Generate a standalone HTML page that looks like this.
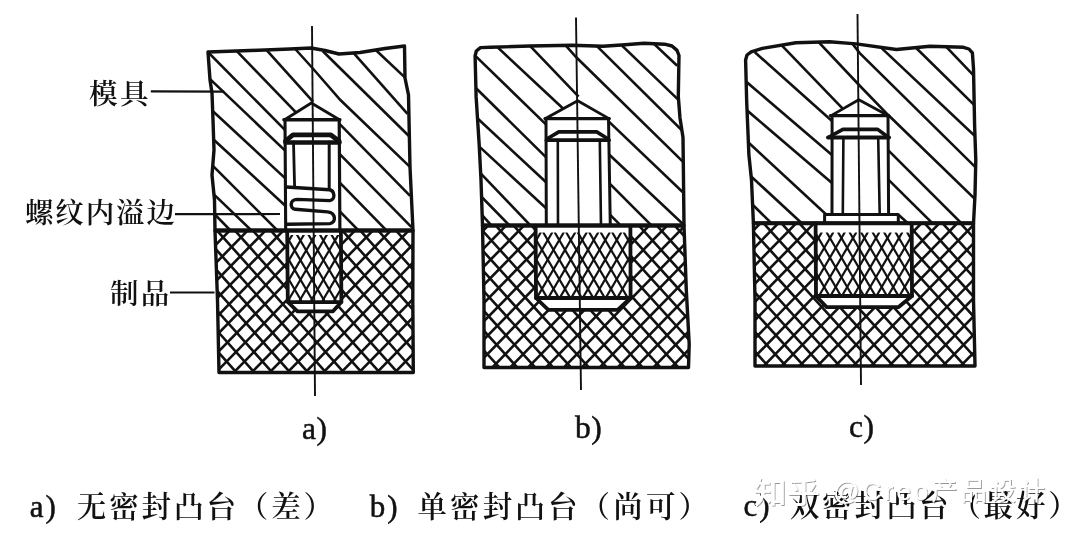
<!DOCTYPE html>
<html lang="zh"><head><meta charset="utf-8"><title>嵌件密封凸台</title>
<style>html,body{margin:0;padding:0;background:#fff}svg{display:block;filter:blur(0.45px)}</style></head>
<body>
<svg width="1080" height="537" viewBox="0 0 1080 537">
<rect width="1080" height="537" fill="#fff"/>
<defs><clipPath id="ma"><polygon points="208.0,52.0 250.0,50.5 290.0,49.0 311.0,48.0 325.0,50.5 339.0,54.0 360.0,52.5 385.0,48.5 404.5,46.0 405.0,78.0 408.5,95.0 410.0,167.0 413.0,230.5 215.0,230.5 214.5,200.0 212.0,175.0 214.0,150.0 213.0,120.0 212.0,93.0 210.0,80.0"/></clipPath>
<clipPath id="pa"><polygon points="215.0,230.5 413.0,230.5 412.8,300.0 413.3,372.5 219.0,372.5 217.5,300.0"/></clipPath>
<clipPath id="mb"><polygon points="475.1,56.0 476.3,51.0 480.5,47.6 490.5,47.3 530.0,46.0 572.0,45.2 603.0,46.3 625.0,44.8 644.0,43.2 664.6,44.2 672.0,46.0 677.0,50.4 679.0,55.5 678.3,96.4 680.0,118.0 683.0,137.4 683.5,180.0 684.0,225.5 482.5,225.5 481.0,180.0 479.2,144.8 476.1,96.4"/></clipPath>
<clipPath id="pb"><polygon points="482.5,225.5 684.0,225.5 686.3,290.0 689.2,344.0 688.5,367.5 484.0,367.5 484.0,300.0"/></clipPath>
<clipPath id="mc"><polygon points="745.6,60.0 747.0,55.0 751.2,51.8 762.3,48.4 795.9,42.8 829.4,41.7 856.2,43.9 896.4,49.5 930.0,46.2 963.5,47.3 969.0,49.0 972.4,52.9 973.5,68.5 974.6,125.0 975.8,160.0 975.0,195.0 973.5,223.3 753.4,223.3 751.5,180.0 748.9,154.8 746.7,102.0"/></clipPath>
<clipPath id="pc"><polygon points="753.4,223.3 973.5,223.3 973.5,300.0 975.0,366.0 755.0,366.0 755.0,300.0"/></clipPath>
<clipPath id="ka"><polygon points="288.0,235.0 341.0,235.0 341.0,302.0 288.0,302.0"/></clipPath>
<clipPath id="kb"><polygon points="537.0,232.6 629.5,232.6 629.5,298.0 537.0,298.0"/></clipPath>
<clipPath id="kc"><polygon points="817.0,232.4 911.0,232.4 911.0,296.0 817.0,296.0"/></clipPath>
<filter id="ws" x="-5%" y="-30%" width="110%" height="160%"><feDropShadow dx="1" dy="1" stdDeviation="0.7" flood-color="#000" flood-opacity="0.4"/></filter></defs>
<g clip-path="url(#ma)" stroke="#111" stroke-width="2.6"><polyline points="207.1,51.2 287.1,132.2" fill="none"/>
<polyline points="236.8,51.1 298.1,114.7" fill="none"/>
<polyline points="266.6,50.1 313.0,101.7" fill="none"/>
<polyline points="294.3,48.0 312.0,67.5 340.4,100.0 410.2,167.1" fill="none"/>
<polyline points="322.9,51.2 408.9,136.0" fill="none"/>
<polyline points="353.7,53.2 407.5,113.9" fill="none"/>
<polyline points="376.0,50.2 406.7,79.1" fill="none"/>
<polyline points="209.8,78.9 287.2,152.6" fill="none"/>
<polyline points="211.3,109.7 287.2,180.1" fill="none"/>
<polyline points="210.8,137.0 287.2,207.5" fill="none"/>
<polyline points="209.9,162.9 280.1,233.1" fill="none"/>
<polyline points="212.3,192.9 254.2,233.1" fill="none"/>
<polyline points="212.9,212.5 233.1,233.1" fill="none"/>
<polyline points="338.3,122.6 410.1,195.9" fill="none"/>
<polyline points="338.3,152.6 411.5,227.1" fill="none"/>
<polyline points="338.3,181.2 389.1,233.1" fill="none"/>
<polyline points="338.3,209.9 361.1,233.1" fill="none"/></g>
<g clip-path="url(#mb)" stroke="#111" stroke-width="2.6"><polyline points="473.9,54.4 547.7,126.1" fill="none"/>
<polyline points="496.5,46.3 564.4,109.7" fill="none"/>
<polyline points="529.3,45.1 578.6,96.6" fill="none"/>
<polyline points="566.3,46.1 576.5,57.5 684.1,162.8" fill="none"/>
<polyline points="594.9,44.2 685.1,133.4" fill="none"/>
<polyline points="619.4,43.1 679.2,100.6" fill="none"/>
<polyline points="652.1,42.1 677.2,65.8" fill="none"/>
<polyline points="476.1,88.2 547.9,159.1" fill="none"/>
<polyline points="476.0,117.0 548.0,184.0" fill="none"/>
<polyline points="478.0,145.4 548.0,210.0" fill="none"/>
<polyline points="479.2,171.8 532.1,227.2" fill="none"/>
<polyline points="480.2,195.5 511.1,227.1" fill="none"/>
<polyline points="481.0,213.8 493.0,227.2" fill="none"/>
<polyline points="608.1,120.9 684.2,193.6" fill="none"/>
<polyline points="609.1,154.5 683.2,224.3" fill="none"/>
<polyline points="609.2,183.2 652.4,226.3" fill="none"/>
<polyline points="609.2,213.9 621.6,226.3" fill="none"/></g>
<g clip-path="url(#mc)" stroke="#111" stroke-width="2.6"><polyline points="754.6,52.0 834.2,123.0" fill="none"/>
<polyline points="781.5,45.1 842.7,108.7" fill="none"/>
<polyline points="817.2,40.6 860.0,86.0 888.0,114.8 976.8,200.8" fill="none"/>
<polyline points="849.9,40.4 859.5,52.9 977.9,169.6" fill="none"/>
<polyline points="880.8,47.4 976.8,137.7" fill="none"/>
<polyline points="914.4,46.3 975.6,106.4" fill="none"/>
<polyline points="944.6,45.1 974.5,76.3" fill="none"/>
<polyline points="745.5,81.1 834.3,156.9" fill="none"/>
<polyline points="745.5,109.1 834.3,184.9" fill="none"/>
<polyline points="746.8,141.0 826.2,214.5" fill="none"/>
<polyline points="750.1,175.5 803.7,225.0" fill="none"/>
<polyline points="752.4,204.5 773.4,225.1" fill="none"/>
<polyline points="887.6,149.7 963.3,225.1" fill="none"/>
<polyline points="887.6,178.8 934.3,225.1" fill="none"/>
<polyline points="898.8,215.0 909.8,225.0" fill="none"/></g>
<g clip-path="url(#pa)" stroke="#111" stroke-width="2.6"><line x1="17.9" y1="228" x2="150.1" y2="376"/>
<line x1="35.8" y1="228" x2="168.0" y2="376"/>
<line x1="53.7" y1="228" x2="185.9" y2="376"/>
<line x1="71.6" y1="228" x2="203.8" y2="376"/>
<line x1="89.5" y1="228" x2="221.7" y2="376"/>
<line x1="107.4" y1="228" x2="239.6" y2="376"/>
<line x1="125.3" y1="228" x2="257.5" y2="376"/>
<line x1="143.2" y1="228" x2="275.4" y2="376"/>
<line x1="161.1" y1="228" x2="293.3" y2="376"/>
<line x1="179.0" y1="228" x2="311.2" y2="376"/>
<line x1="196.9" y1="228" x2="329.1" y2="376"/>
<line x1="214.8" y1="228" x2="347.0" y2="376"/>
<line x1="232.7" y1="228" x2="364.9" y2="376"/>
<line x1="250.6" y1="228" x2="382.8" y2="376"/>
<line x1="268.5" y1="228" x2="400.7" y2="376"/>
<line x1="286.4" y1="228" x2="418.6" y2="376"/>
<line x1="304.3" y1="228" x2="436.5" y2="376"/>
<line x1="322.2" y1="228" x2="454.4" y2="376"/>
<line x1="340.1" y1="228" x2="472.3" y2="376"/>
<line x1="358.0" y1="228" x2="490.2" y2="376"/>
<line x1="375.9" y1="228" x2="508.1" y2="376"/>
<line x1="393.8" y1="228" x2="526.0" y2="376"/>
<line x1="411.7" y1="228" x2="543.9" y2="376"/>
<line x1="53.2" y1="228" x2="-91.9" y2="376"/>
<line x1="71.1" y1="228" x2="-74.0" y2="376"/>
<line x1="89.0" y1="228" x2="-56.1" y2="376"/>
<line x1="106.9" y1="228" x2="-38.2" y2="376"/>
<line x1="124.8" y1="228" x2="-20.3" y2="376"/>
<line x1="142.7" y1="228" x2="-2.4" y2="376"/>
<line x1="160.6" y1="228" x2="15.5" y2="376"/>
<line x1="178.5" y1="228" x2="33.4" y2="376"/>
<line x1="196.4" y1="228" x2="51.3" y2="376"/>
<line x1="214.3" y1="228" x2="69.2" y2="376"/>
<line x1="232.2" y1="228" x2="87.1" y2="376"/>
<line x1="250.1" y1="228" x2="105.0" y2="376"/>
<line x1="268.0" y1="228" x2="122.9" y2="376"/>
<line x1="285.9" y1="228" x2="140.8" y2="376"/>
<line x1="303.8" y1="228" x2="158.7" y2="376"/>
<line x1="321.7" y1="228" x2="176.6" y2="376"/>
<line x1="339.6" y1="228" x2="194.5" y2="376"/>
<line x1="357.5" y1="228" x2="212.4" y2="376"/>
<line x1="375.4" y1="228" x2="230.3" y2="376"/>
<line x1="393.3" y1="228" x2="248.2" y2="376"/>
<line x1="411.2" y1="228" x2="266.1" y2="376"/>
<line x1="429.1" y1="228" x2="284.0" y2="376"/>
<line x1="447.0" y1="228" x2="301.9" y2="376"/>
<line x1="464.9" y1="228" x2="319.8" y2="376"/>
<line x1="482.8" y1="228" x2="337.7" y2="376"/>
<line x1="500.7" y1="228" x2="355.6" y2="376"/>
<line x1="518.6" y1="228" x2="373.5" y2="376"/>
<line x1="536.5" y1="228" x2="391.4" y2="376"/>
<line x1="554.4" y1="228" x2="409.3" y2="376"/></g>
<g clip-path="url(#pb)" stroke="#111" stroke-width="2.6"><line x1="297.4" y1="224" x2="430.1" y2="370"/>
<line x1="315.3" y1="224" x2="448.0" y2="370"/>
<line x1="333.2" y1="224" x2="465.9" y2="370"/>
<line x1="351.1" y1="224" x2="483.8" y2="370"/>
<line x1="369.0" y1="224" x2="501.7" y2="370"/>
<line x1="386.9" y1="224" x2="519.6" y2="370"/>
<line x1="404.8" y1="224" x2="537.5" y2="370"/>
<line x1="422.7" y1="224" x2="555.4" y2="370"/>
<line x1="440.6" y1="224" x2="573.3" y2="370"/>
<line x1="458.5" y1="224" x2="591.2" y2="370"/>
<line x1="476.4" y1="224" x2="609.1" y2="370"/>
<line x1="494.3" y1="224" x2="627.0" y2="370"/>
<line x1="512.2" y1="224" x2="644.9" y2="370"/>
<line x1="530.1" y1="224" x2="662.8" y2="370"/>
<line x1="548.0" y1="224" x2="680.7" y2="370"/>
<line x1="565.9" y1="224" x2="698.6" y2="370"/>
<line x1="583.8" y1="224" x2="716.5" y2="370"/>
<line x1="601.7" y1="224" x2="734.4" y2="370"/>
<line x1="619.6" y1="224" x2="752.3" y2="370"/>
<line x1="637.5" y1="224" x2="770.2" y2="370"/>
<line x1="655.4" y1="224" x2="788.1" y2="370"/>
<line x1="673.3" y1="224" x2="806.0" y2="370"/>
<line x1="691.2" y1="224" x2="823.9" y2="370"/>
<line x1="328.6" y1="224" x2="185.5" y2="370"/>
<line x1="346.5" y1="224" x2="203.4" y2="370"/>
<line x1="364.4" y1="224" x2="221.3" y2="370"/>
<line x1="382.3" y1="224" x2="239.2" y2="370"/>
<line x1="400.2" y1="224" x2="257.1" y2="370"/>
<line x1="418.1" y1="224" x2="275.0" y2="370"/>
<line x1="436.0" y1="224" x2="292.9" y2="370"/>
<line x1="453.9" y1="224" x2="310.8" y2="370"/>
<line x1="471.8" y1="224" x2="328.7" y2="370"/>
<line x1="489.7" y1="224" x2="346.6" y2="370"/>
<line x1="507.6" y1="224" x2="364.5" y2="370"/>
<line x1="525.5" y1="224" x2="382.4" y2="370"/>
<line x1="543.4" y1="224" x2="400.3" y2="370"/>
<line x1="561.3" y1="224" x2="418.2" y2="370"/>
<line x1="579.2" y1="224" x2="436.1" y2="370"/>
<line x1="597.1" y1="224" x2="454.0" y2="370"/>
<line x1="615.0" y1="224" x2="471.9" y2="370"/>
<line x1="632.9" y1="224" x2="489.8" y2="370"/>
<line x1="650.8" y1="224" x2="507.7" y2="370"/>
<line x1="668.7" y1="224" x2="525.6" y2="370"/>
<line x1="686.6" y1="224" x2="543.5" y2="370"/>
<line x1="704.5" y1="224" x2="561.4" y2="370"/>
<line x1="722.4" y1="224" x2="579.3" y2="370"/>
<line x1="740.3" y1="224" x2="597.2" y2="370"/>
<line x1="758.2" y1="224" x2="615.1" y2="370"/>
<line x1="776.1" y1="224" x2="633.0" y2="370"/>
<line x1="794.0" y1="224" x2="650.9" y2="370"/>
<line x1="811.9" y1="224" x2="668.8" y2="370"/>
<line x1="829.8" y1="224" x2="686.7" y2="370"/></g>
<g clip-path="url(#pc)" stroke="#111" stroke-width="2.6"><line x1="564.6" y1="221" x2="700.1" y2="370"/>
<line x1="582.5" y1="221" x2="718.0" y2="370"/>
<line x1="600.4" y1="221" x2="735.9" y2="370"/>
<line x1="618.3" y1="221" x2="753.8" y2="370"/>
<line x1="636.2" y1="221" x2="771.7" y2="370"/>
<line x1="654.1" y1="221" x2="789.6" y2="370"/>
<line x1="672.0" y1="221" x2="807.5" y2="370"/>
<line x1="689.9" y1="221" x2="825.4" y2="370"/>
<line x1="707.8" y1="221" x2="843.3" y2="370"/>
<line x1="725.7" y1="221" x2="861.2" y2="370"/>
<line x1="743.6" y1="221" x2="879.1" y2="370"/>
<line x1="761.5" y1="221" x2="897.0" y2="370"/>
<line x1="779.4" y1="221" x2="914.9" y2="370"/>
<line x1="797.3" y1="221" x2="932.8" y2="370"/>
<line x1="815.2" y1="221" x2="950.7" y2="370"/>
<line x1="833.1" y1="221" x2="968.6" y2="370"/>
<line x1="851.0" y1="221" x2="986.5" y2="370"/>
<line x1="868.9" y1="221" x2="1004.4" y2="370"/>
<line x1="886.8" y1="221" x2="1022.3" y2="370"/>
<line x1="904.7" y1="221" x2="1040.2" y2="370"/>
<line x1="922.6" y1="221" x2="1058.1" y2="370"/>
<line x1="940.5" y1="221" x2="1076.0" y2="370"/>
<line x1="958.4" y1="221" x2="1093.9" y2="370"/>
<line x1="976.3" y1="221" x2="1111.8" y2="370"/>
<line x1="601.5" y1="221" x2="455.5" y2="370"/>
<line x1="619.4" y1="221" x2="473.4" y2="370"/>
<line x1="637.3" y1="221" x2="491.3" y2="370"/>
<line x1="655.2" y1="221" x2="509.2" y2="370"/>
<line x1="673.1" y1="221" x2="527.1" y2="370"/>
<line x1="691.0" y1="221" x2="545.0" y2="370"/>
<line x1="708.9" y1="221" x2="562.9" y2="370"/>
<line x1="726.8" y1="221" x2="580.8" y2="370"/>
<line x1="744.7" y1="221" x2="598.7" y2="370"/>
<line x1="762.6" y1="221" x2="616.6" y2="370"/>
<line x1="780.5" y1="221" x2="634.5" y2="370"/>
<line x1="798.4" y1="221" x2="652.4" y2="370"/>
<line x1="816.3" y1="221" x2="670.3" y2="370"/>
<line x1="834.2" y1="221" x2="688.2" y2="370"/>
<line x1="852.1" y1="221" x2="706.1" y2="370"/>
<line x1="870.0" y1="221" x2="724.0" y2="370"/>
<line x1="887.9" y1="221" x2="741.9" y2="370"/>
<line x1="905.8" y1="221" x2="759.8" y2="370"/>
<line x1="923.7" y1="221" x2="777.7" y2="370"/>
<line x1="941.6" y1="221" x2="795.6" y2="370"/>
<line x1="959.5" y1="221" x2="813.5" y2="370"/>
<line x1="977.4" y1="221" x2="831.4" y2="370"/>
<line x1="995.3" y1="221" x2="849.3" y2="370"/>
<line x1="1013.2" y1="221" x2="867.2" y2="370"/>
<line x1="1031.1" y1="221" x2="885.1" y2="370"/>
<line x1="1049.0" y1="221" x2="903.0" y2="370"/>
<line x1="1066.9" y1="221" x2="920.9" y2="370"/>
<line x1="1084.8" y1="221" x2="938.8" y2="370"/>
<line x1="1102.7" y1="221" x2="956.7" y2="370"/>
<line x1="1120.6" y1="221" x2="974.6" y2="370"/></g>
<polygon points="311.3,103.0 339.5,119.7 339.9,231.0 285.7,231.0 284.6,119.7" fill="#fff"/>
<polygon points="287.2,231.0 340.9,231.0 341.4,302.0 333.0,311.3 297.5,311.3 287.8,302.0" fill="#fff"/>
<g clip-path="url(#ka)" stroke="#111" stroke-width="2.2"><line x1="237.9" y1="232" x2="278.5" y2="301"/>
<line x1="249.4" y1="232" x2="290.0" y2="301"/>
<line x1="260.9" y1="232" x2="301.5" y2="301"/>
<line x1="272.4" y1="232" x2="313.0" y2="301"/>
<line x1="283.9" y1="232" x2="324.5" y2="301"/>
<line x1="295.4" y1="232" x2="336.0" y2="301"/>
<line x1="306.9" y1="232" x2="347.5" y2="301"/>
<line x1="318.4" y1="232" x2="359.0" y2="301"/>
<line x1="329.9" y1="232" x2="370.5" y2="301"/>
<line x1="341.4" y1="232" x2="382.0" y2="301"/>
<line x1="352.9" y1="232" x2="393.5" y2="301"/>
<line x1="282.5" y1="232" x2="241.9" y2="301"/>
<line x1="294.0" y1="232" x2="253.4" y2="301"/>
<line x1="305.5" y1="232" x2="264.9" y2="301"/>
<line x1="317.0" y1="232" x2="276.4" y2="301"/>
<line x1="328.5" y1="232" x2="287.9" y2="301"/>
<line x1="340.0" y1="232" x2="299.4" y2="301"/>
<line x1="351.5" y1="232" x2="310.9" y2="301"/>
<line x1="363.0" y1="232" x2="322.4" y2="301"/>
<line x1="374.5" y1="232" x2="333.9" y2="301"/>
<line x1="386.0" y1="232" x2="345.4" y2="301"/></g>
<polygon points="577.7,100.8 609.0,118.6 610.3,225.7 546.3,225.7 545.5,118.6" fill="#fff"/>
<polygon points="535.6,225.7 630.4,225.7 630.6,298.0 617.7,309.8 548.3,309.8 536.0,298.0" fill="#fff"/>
<g clip-path="url(#kb)" stroke="#111" stroke-width="2.2"><line x1="485.5" y1="232" x2="525.5" y2="300"/>
<line x1="497.0" y1="232" x2="537.0" y2="300"/>
<line x1="508.5" y1="232" x2="548.5" y2="300"/>
<line x1="520.0" y1="232" x2="560.0" y2="300"/>
<line x1="531.5" y1="232" x2="571.5" y2="300"/>
<line x1="543.0" y1="232" x2="583.0" y2="300"/>
<line x1="554.5" y1="232" x2="594.5" y2="300"/>
<line x1="566.0" y1="232" x2="606.0" y2="300"/>
<line x1="577.5" y1="232" x2="617.5" y2="300"/>
<line x1="589.0" y1="232" x2="629.0" y2="300"/>
<line x1="600.5" y1="232" x2="640.5" y2="300"/>
<line x1="612.0" y1="232" x2="652.0" y2="300"/>
<line x1="623.5" y1="232" x2="663.5" y2="300"/>
<line x1="635.0" y1="232" x2="675.0" y2="300"/>
<line x1="529.5" y1="232" x2="489.5" y2="300"/>
<line x1="541.0" y1="232" x2="501.0" y2="300"/>
<line x1="552.5" y1="232" x2="512.5" y2="300"/>
<line x1="564.0" y1="232" x2="524.0" y2="300"/>
<line x1="575.5" y1="232" x2="535.5" y2="300"/>
<line x1="587.0" y1="232" x2="547.0" y2="300"/>
<line x1="598.5" y1="232" x2="558.5" y2="300"/>
<line x1="610.0" y1="232" x2="570.0" y2="300"/>
<line x1="621.5" y1="232" x2="581.5" y2="300"/>
<line x1="633.0" y1="232" x2="593.0" y2="300"/>
<line x1="644.5" y1="232" x2="604.5" y2="300"/>
<line x1="656.0" y1="232" x2="616.0" y2="300"/>
<line x1="667.5" y1="232" x2="627.5" y2="300"/>
<line x1="679.0" y1="232" x2="639.0" y2="300"/></g>
<polygon points="858.8,99.7 888.0,115.6 888.6,214.5 898.3,214.5 898.3,223.5 824.6,223.5 824.6,214.5 832.0,214.5 831.1,115.6" fill="#fff"/>
<polygon points="815.6,223.5 911.7,223.5 912.0,296.0 898.3,307.2 826.8,307.2 816.0,296.0" fill="#fff"/>
<g clip-path="url(#kc)" stroke="#111" stroke-width="2.2"><line x1="768.9" y1="232" x2="806.5" y2="296"/>
<line x1="780.4" y1="232" x2="818.0" y2="296"/>
<line x1="791.9" y1="232" x2="829.5" y2="296"/>
<line x1="803.4" y1="232" x2="841.0" y2="296"/>
<line x1="814.9" y1="232" x2="852.5" y2="296"/>
<line x1="826.4" y1="232" x2="864.0" y2="296"/>
<line x1="837.9" y1="232" x2="875.5" y2="296"/>
<line x1="849.4" y1="232" x2="887.0" y2="296"/>
<line x1="860.9" y1="232" x2="898.5" y2="296"/>
<line x1="872.4" y1="232" x2="910.0" y2="296"/>
<line x1="883.9" y1="232" x2="921.5" y2="296"/>
<line x1="895.4" y1="232" x2="933.0" y2="296"/>
<line x1="906.9" y1="232" x2="944.5" y2="296"/>
<line x1="918.4" y1="232" x2="956.0" y2="296"/>
<line x1="810.5" y1="232" x2="772.9" y2="296"/>
<line x1="822.0" y1="232" x2="784.4" y2="296"/>
<line x1="833.5" y1="232" x2="795.9" y2="296"/>
<line x1="845.0" y1="232" x2="807.4" y2="296"/>
<line x1="856.5" y1="232" x2="818.9" y2="296"/>
<line x1="868.0" y1="232" x2="830.4" y2="296"/>
<line x1="879.5" y1="232" x2="841.9" y2="296"/>
<line x1="891.0" y1="232" x2="853.4" y2="296"/>
<line x1="902.5" y1="232" x2="864.9" y2="296"/>
<line x1="914.0" y1="232" x2="876.4" y2="296"/>
<line x1="925.5" y1="232" x2="887.9" y2="296"/>
<line x1="937.0" y1="232" x2="899.4" y2="296"/>
<line x1="948.5" y1="232" x2="910.9" y2="296"/>
<line x1="960.0" y1="232" x2="922.4" y2="296"/></g>
<polygon points="208.0,52.0 250.0,50.5 290.0,49.0 311.0,48.0 325.0,50.5 339.0,54.0 360.0,52.5 385.0,48.5 404.5,46.0 405.0,78.0 408.5,95.0 410.0,167.0 413.0,230.5 215.0,230.5 214.5,200.0 212.0,175.0 214.0,150.0 213.0,120.0 212.0,93.0 210.0,80.0" fill="none" stroke="#111" stroke-width="3.4" stroke-linejoin="round" stroke-linecap="round" />
<polygon points="215.0,230.5 413.0,230.5 412.8,300.0 413.3,372.5 219.0,372.5 217.5,300.0" fill="none" stroke="#111" stroke-width="3.4" stroke-linejoin="round" stroke-linecap="round" />
<line x1="215" y1="230.5" x2="413" y2="230.5" stroke="#111" stroke-width="3.8"/>
<polygon points="475.1,56.0 476.3,51.0 480.5,47.6 490.5,47.3 530.0,46.0 572.0,45.2 603.0,46.3 625.0,44.8 644.0,43.2 664.6,44.2 672.0,46.0 677.0,50.4 679.0,55.5 678.3,96.4 680.0,118.0 683.0,137.4 683.5,180.0 684.0,225.5 482.5,225.5 481.0,180.0 479.2,144.8 476.1,96.4" fill="none" stroke="#111" stroke-width="3.4" stroke-linejoin="round" stroke-linecap="round" />
<polygon points="482.5,225.5 684.0,225.5 686.3,290.0 689.2,344.0 688.5,367.5 484.0,367.5 484.0,300.0" fill="none" stroke="#111" stroke-width="3.4" stroke-linejoin="round" stroke-linecap="round" />
<line x1="482.5" y1="225.5" x2="684" y2="225.5" stroke="#111" stroke-width="3.8"/>
<polygon points="745.6,60.0 747.0,55.0 751.2,51.8 762.3,48.4 795.9,42.8 829.4,41.7 856.2,43.9 896.4,49.5 930.0,46.2 963.5,47.3 969.0,49.0 972.4,52.9 973.5,68.5 974.6,125.0 975.8,160.0 975.0,195.0 973.5,223.3 753.4,223.3 751.5,180.0 748.9,154.8 746.7,102.0" fill="none" stroke="#111" stroke-width="3.4" stroke-linejoin="round" stroke-linecap="round" />
<polygon points="753.4,223.3 973.5,223.3 973.5,300.0 975.0,366.0 755.0,366.0 755.0,300.0" fill="none" stroke="#111" stroke-width="3.4" stroke-linejoin="round" stroke-linecap="round" />
<line x1="753.4" y1="223.3" x2="973.5" y2="223.3" stroke="#111" stroke-width="3.8"/>
<polyline points="284.6,119.7 311.3,103.0 339.5,119.7" fill="none" stroke="#111" stroke-width="2.8" stroke-linejoin="round" stroke-linecap="round" />
<polyline points="284.0,119.7 339.8,119.7" fill="none" stroke="#111" stroke-width="3.6" stroke-linejoin="round" stroke-linecap="round" />
<polyline points="285.0,119.7 285.7,231.0" fill="none" stroke="#111" stroke-width="3.1" stroke-linejoin="round" stroke-linecap="round" />
<polyline points="339.2,119.7 339.9,231.0" fill="none" stroke="#111" stroke-width="3.2" stroke-linejoin="round" stroke-linecap="round" />
<polyline points="285.5,141.0 293.0,134.8 330.5,134.8 339.0,141.0" fill="none" stroke="#111" stroke-width="4.8" stroke-linejoin="round" stroke-linecap="round" />
<polyline points="285.5,142.5 339.5,142.5" fill="none" stroke="#111" stroke-width="4.6" stroke-linejoin="round" stroke-linecap="round" />
<polyline points="293.5,142.0 294.6,187.0" fill="none" stroke="#111" stroke-width="2.8" stroke-linejoin="round" stroke-linecap="round" />
<polyline points="329.2,142.0 329.2,189.0" fill="none" stroke="#111" stroke-width="3" stroke-linejoin="round" stroke-linecap="round" />
<path d="M286.2 187 L329.5 189.8 C334.5 190.5 336 199.8 329.8 200.6 L297.4 199.4 C289.5 199.6 289.5 208.6 295.2 209.2 L327.6 211.9 C336 212.8 336.5 222.8 329.8 223.6 L286.8 224.2" fill="none" stroke="#111" stroke-width="3.4" stroke-linejoin="round"/>
<polyline points="287.2,231.0 287.8,302.0 297.5,311.3 333.0,311.3 341.4,302.0 340.9,231.0" fill="none" stroke="#111" stroke-width="3.8" stroke-linejoin="round" stroke-linecap="round" />
<polyline points="287.8,302.1 341.4,302.1" fill="none" stroke="#111" stroke-width="3.6" stroke-linejoin="round" stroke-linecap="round" />
<polyline points="545.5,118.6 577.7,100.8 609.0,118.6" fill="none" stroke="#111" stroke-width="2.8" stroke-linejoin="round" stroke-linecap="round" />
<polyline points="545.0,118.6 609.3,118.6" fill="none" stroke="#111" stroke-width="3.2" stroke-linejoin="round" stroke-linecap="round" />
<polyline points="546.0,118.6 546.3,225.7" fill="none" stroke="#111" stroke-width="3" stroke-linejoin="round" stroke-linecap="round" />
<polyline points="608.5,118.6 610.3,225.7" fill="none" stroke="#111" stroke-width="3" stroke-linejoin="round" stroke-linecap="round" />
<polyline points="546.8,139.0 558.8,131.9 596.7,131.9 608.2,139.0" fill="none" stroke="#111" stroke-width="3.6" stroke-linejoin="round" stroke-linecap="round" />
<polyline points="546.5,140.2 609.0,140.2" fill="none" stroke="#111" stroke-width="3.8" stroke-linejoin="round" stroke-linecap="round" />
<polyline points="557.8,140.0 558.0,225.7" fill="none" stroke="#111" stroke-width="2.6" stroke-linejoin="round" stroke-linecap="round" />
<polyline points="599.8,140.0 601.0,225.7" fill="none" stroke="#111" stroke-width="2.6" stroke-linejoin="round" stroke-linecap="round" />
<polyline points="535.6,225.7 536.0,298.0 548.3,309.8 617.7,309.8 630.6,298.0 630.4,225.7" fill="none" stroke="#111" stroke-width="3.8" stroke-linejoin="round" stroke-linecap="round" />
<polyline points="536.0,298.0 630.6,298.0" fill="none" stroke="#111" stroke-width="3.8" stroke-linejoin="round" stroke-linecap="round" />
<polyline points="831.1,115.6 858.8,99.7 888.0,115.6" fill="none" stroke="#111" stroke-width="2.8" stroke-linejoin="round" stroke-linecap="round" />
<polyline points="830.5,115.6 888.5,115.6" fill="none" stroke="#111" stroke-width="3.4" stroke-linejoin="round" stroke-linecap="round" />
<polyline points="832.1,115.6 832.0,214.5" fill="none" stroke="#111" stroke-width="3" stroke-linejoin="round" stroke-linecap="round" />
<polyline points="888.0,115.6 888.6,214.5" fill="none" stroke="#111" stroke-width="3" stroke-linejoin="round" stroke-linecap="round" />
<polyline points="829.0,137.0 842.9,129.4 877.7,129.4 888.0,137.0" fill="none" stroke="#111" stroke-width="3.6" stroke-linejoin="round" stroke-linecap="round" />
<polyline points="828.0,137.6 889.0,137.6" fill="none" stroke="#111" stroke-width="4" stroke-linejoin="round" stroke-linecap="round" />
<polyline points="843.4,137.6 842.8,214.5" fill="none" stroke="#111" stroke-width="2.6" stroke-linejoin="round" stroke-linecap="round" />
<polyline points="878.2,137.6 879.7,214.5" fill="none" stroke="#111" stroke-width="2.6" stroke-linejoin="round" stroke-linecap="round" />
<polyline points="824.6,223.5 824.6,214.5 898.3,214.5 898.3,223.5" fill="none" stroke="#111" stroke-width="3" stroke-linejoin="round" stroke-linecap="round" />
<polyline points="815.6,223.5 816.0,296.0 826.8,307.2 898.3,307.2 912.0,296.0 911.7,223.5" fill="none" stroke="#111" stroke-width="3.8" stroke-linejoin="round" stroke-linecap="round" />
<polyline points="816.0,296.0 912.0,296.0" fill="none" stroke="#111" stroke-width="3.8" stroke-linejoin="round" stroke-linecap="round" />
<line x1="312" y1="26" x2="315" y2="396" stroke="#111" stroke-width="1.9"/>
<line x1="576" y1="17.5" x2="581" y2="390" stroke="#111" stroke-width="1.9"/>
<line x1="857.5" y1="14" x2="861" y2="385" stroke="#111" stroke-width="1.9"/>
<line x1="150.8" y1="91.3" x2="224.2" y2="91.6" stroke="#111" stroke-width="2.2"/>
<line x1="175" y1="214.2" x2="280" y2="214" stroke="#111" stroke-width="2.2"/>
<line x1="170" y1="292.5" x2="214.5" y2="292.5" stroke="#111" stroke-width="2.2"/>
<text x="89" y="104.1" font-size="28.5" font-family="'Liberation Serif', 'Noto Serif CJK SC', serif" fill="#111" font-weight="600" letter-spacing="2.4">模具</text>
<text x="24.9" y="223.3" font-size="28.5" font-family="'Liberation Serif', 'Noto Serif CJK SC', serif" fill="#111" font-weight="600" letter-spacing="1.9">螺纹内溢边</text>
<text x="110" y="304.2" font-size="28.5" font-family="'Liberation Serif', 'Noto Serif CJK SC', serif" fill="#111" font-weight="600" letter-spacing="2.3">制品</text>
<text x="302" y="438.5" font-size="31.5" font-family="'Liberation Serif', 'Noto Serif CJK SC', serif" fill="#111" letter-spacing="0.5" stroke="#111" stroke-width="0.5">a)</text>
<text x="575" y="438" font-size="31.5" font-family="'Liberation Serif', 'Noto Serif CJK SC', serif" fill="#111" letter-spacing="0.5" stroke="#111" stroke-width="0.5">b)</text>
<text x="849" y="437" font-size="31.5" font-family="'Liberation Serif', 'Noto Serif CJK SC', serif" fill="#111" letter-spacing="0.5" stroke="#111" stroke-width="0.5">c)</text>
<text x="29.8" y="517" font-size="31" font-family="'Liberation Serif', 'Noto Serif CJK SC', serif" fill="#111" letter-spacing="2" stroke="#111" stroke-width="0.5">a)</text><text x="76.8 109.2 141.6 174.0 206.4 238.8 271.2 303.6" y="517" font-size="29.5" font-family="'Liberation Serif', 'Noto Serif CJK SC', serif" fill="#111" font-weight="600">无密封凸台（差）</text>
<text x="369.8" y="517" font-size="31" font-family="'Liberation Serif', 'Noto Serif CJK SC', serif" fill="#111" letter-spacing="2" stroke="#111" stroke-width="0.5">b)</text><text x="417.4 450.0 482.7 515.3 548.0 580.6 613.2 645.9 678.5" y="517" font-size="29.5" font-family="'Liberation Serif', 'Noto Serif CJK SC', serif" fill="#111" font-weight="600">单密封凸台（尚可）</text>
<text x="743.5" y="516" font-size="31" font-family="'Liberation Serif', 'Noto Serif CJK SC', serif" fill="#111" letter-spacing="2" stroke="#111" stroke-width="0.5">c)</text><text x="789.9 822.1 854.5 886.8 919.0 951.4 983.6 1016.0 1048.2" y="516" font-size="29.5" font-family="'Liberation Serif', 'Noto Serif CJK SC', serif" fill="#111" font-weight="600">双密封凸台（最好）</text>
<g filter="url(#ws)" fill="#fff"><text transform="translate(753.5 502.6) scale(1.12 1)" font-size="29.5" font-family="'Liberation Sans', 'Noto Sans CJK SC', sans-serif" font-weight="500" letter-spacing="0.3">知乎</text><text x="833" y="499.6" font-size="26.2" font-family="'Liberation Sans', 'Noto Sans CJK SC', sans-serif" letter-spacing="3">@Creo产品设计</text></g>
</svg>
</body></html>
